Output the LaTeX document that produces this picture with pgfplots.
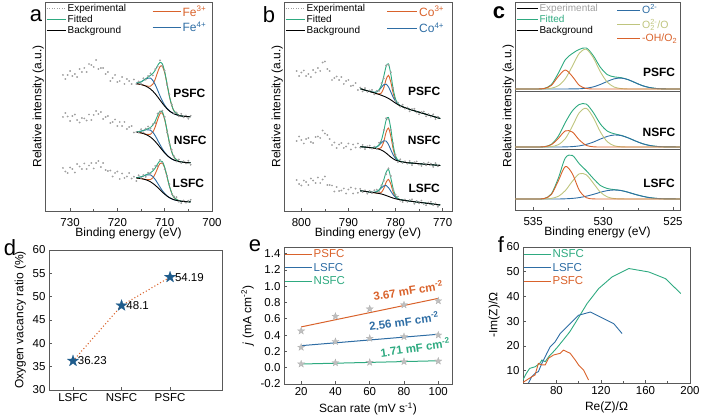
\documentclass[border=0pt]{standalone}
\usepackage{fontspec}
\setmainfont{Liberation Sans}
\usepackage{pgfplots}
\usepackage{pgfplotstable}
\pgfplotsset{compat=1.18}
\definecolor{cor}{HTML}{D9622B}
\definecolor{cbl}{HTML}{2E6DA4}
\definecolor{cgr}{HTML}{2EAA80}
\definecolor{col}{HTML}{BFC57E}
\definecolor{cst}{HTML}{1F5C8C}
\definecolor{cfr}{HTML}{595959}
\definecolor{cex}{HTML}{A0A0A0}
\pgfdeclareplotmark{fstar}{%
\pgfpathmoveto{\pgfpointpolar{90}{\pgfplotmarksize}}%
\pgfpathlineto{\pgfpointpolar{126}{0.40\pgfplotmarksize}}%
\pgfpathlineto{\pgfpointpolar{162}{\pgfplotmarksize}}%
\pgfpathlineto{\pgfpointpolar{198}{0.40\pgfplotmarksize}}%
\pgfpathlineto{\pgfpointpolar{234}{\pgfplotmarksize}}%
\pgfpathlineto{\pgfpointpolar{270}{0.40\pgfplotmarksize}}%
\pgfpathlineto{\pgfpointpolar{306}{\pgfplotmarksize}}%
\pgfpathlineto{\pgfpointpolar{342}{0.40\pgfplotmarksize}}%
\pgfpathlineto{\pgfpointpolar{18}{\pgfplotmarksize}}%
\pgfpathlineto{\pgfpointpolar{54}{0.40\pgfplotmarksize}}%
\pgfpathclose\pgfusepathqfillstroke}

% ---------- panel a: Fe 2p ----------
\pgfplotstableread{
x P N L
731.5 136 94 43
731 132 98 39.5
730.5 136 94.5 38
730 140 90 43.5
729.5 135 95 42
729 137 96.5 38.5
728.5 134 91 47
728 142 88.5 44.5
727.5 139 93 42
727 143 92.5 47.5
726.5 139 90.5 42
726 147 96.5 45.5
725.5 146 91 48
725 144 96 42.5
724.5 151 100 48
724 142 97 50
723.5 143 99 44
723 143 92 48
722.5 137 94 41
722 139 95 40
721.5 130 88 40.5
721 133 89 34.5
720.5 136 91.5 38
720 129 85 39.5
719.5 130 89 32
719 134 85 37.5
718.5 127 89 33
718 132 82 34.5
717.5 130 84 38
717 127 85 32.5
716.5 131.5 78.5 34.3
716 127 79 30
715.5 129.5 78.5 35.7
715 127.1 81.8 33.1
714.5 132.7 78.6 36.1
714 131.3 82.4 34.1
713.5 135 84.5 38.2
713 137.7 82.6 37.3
712.5 135.6 86.8 42
712 141.9 87.9 45
711.5 144.4 97.4 45
711 150.6 98.9 51.2
710.5 145.1 100.3 48.4
710 140.3 94.1 41.7
709.5 126.1 78.4 35.4
709 116.8 67.3 26.9
708.5 106.5 61.1 16.7
708 97.9 54.7 14.4
707.5 98.5 49.5 13.8
707 94.7 51.6 9.3
706.5 97.2 48.1 7.9
706 93.7 49.7 10.5
705.5 95.5 47.5 8.3
705 92.3 50.3 10.2
704.5 95.2 46.2 11.2
}\scatA
\pgfplotstableread{
x PO PB PG PK NO NB NG NK LO LB LG LK
716 127.3 127.8 127.8 127.3 78.8 79.1 79.1 78.8 33.0 33.3 33.3 33.0
715 126.5 129.1 129.1 126.5 78.1 79.8 79.8 78.1 32.4 34.1 34.1 32.4
714 125.1 132.1 132.3 124.9 76.8 81.2 81.4 76.6 31.5 35.9 36.1 31.3
713 124.8 132.9 135.7 122.0 76.7 80.8 83.6 73.9 31.4 36.1 38.3 29.2
712.5 126.9 130.5 137.6 119.8 79.0 78.7 85.8 71.9 33.2 34.4 40.0 27.6
712 131.8 126.3 140.9 117.2 84.1 75.3 89.9 69.5 37.2 31.5 43.0 25.7
711.5 138.7 120.9 145.4 114.2 91.2 70.9 95.4 66.7 42.8 27.8 47.0 23.6
711 144.4 115.2 148.6 111.0 97.2 66.5 99.9 63.8 47.5 24.0 50.2 21.3
710.5 144.8 110.1 147.1 107.8 97.8 62.3 99.3 60.8 47.9 20.4 49.4 18.9
710 138.2 105.9 139.3 104.8 91.4 58.7 92.1 58.0 43.0 17.5 43.7 16.8
709.5 126.7 102.6 127.1 102.2 80.1 55.9 80.4 55.6 34.1 15.2 34.4 14.9
709 114.6 100.2 114.8 100.0 68.2 53.7 68.3 53.6 24.8 13.4 24.9 13.3
708.5 105.5 98.4 105.5 98.4 59.1 52.0 59.1 52.0 17.7 12.1 17.7 12.1
708 99.9 97.1 99.9 97.1 53.7 50.9 53.7 50.9 13.4 11.2 13.4 11.2
707 95.7 95.5 95.7 95.5 49.6 49.4 49.6 49.4 10.3 10.1 10.3 10.1
706 94.7 94.7 94.7 94.7 48.7 48.7 48.7 48.7 9.5 9.5 9.5 9.5
705 94.3 94.3 94.3 94.3 48.3 48.3 48.3 48.3 9.2 9.2 9.2 9.2
704.5 94.2 94.2 94.2 94.2 48.2 48.2 48.2 48.2 9.2 9.2 9.2 9.2
}\fitA

% ---------- panel b: Co 2p ----------
\pgfplotstableread{
x P N L
801 140 70 31
800.5 135 74.5 27
800 138.5 71 25.5
799.5 140.5 67.5 30.5
799 135 72 29
798.5 137 73 26
798 134 69 32.5
797.5 141 68 30.5
797 138.5 74 28
796.5 143 74.5 33.5
796 140 73 28
795.5 148.5 80.5 31.5
795 149.5 77.5 34.5
794.5 142 76 26
794 140 72 26
793.5 131 66 25.5
793 133 68.5 19.5
792.5 134.5 63 24
792 131 66.5 20
791.5 134 68 20.5
791 127 63 22.5
790.5 130 64.5 17.5
790 131 67.5 21.5
789.5 125 61.5 23.5
789 125.5 66.5 17.5
788.5 128 63.5 22.3
788 121 67.5 18.2
787.5 123.3 63.3 22.2
787 119.6 66.1 18.9
786.5 122.9 61.9 20.6
786 119.2 64.7 17.3
785.5 120.5 65.4 20
785 121.1 62.4 17.9
784.5 116.7 64.3 20.7
784 120.1 62.1 21.3
783.5 120.2 68.2 19.1
783 127.9 69.9 25.8
782.5 132.6 80.9 30.2
782 145.6 92.8 36.7
781.5 146.1 91.5 42.6
781 138.8 81.1 35
780.5 123 67.8 21.3
780 110 56.2 16.3
779.5 108.4 49 14.4
779 104.3 51.6 10.4
778.5 106.3 48.1 9
778 102.3 49.6 11.5
777.5 103.5 47.4 9.2
777 99.7 50.1 10.9
776.5 102 45.9 11.6
776 102.2 48.7 7.3
775.5 98.5 49.5 10
775 96.8 46.3 7.7
774.5 99.1 45.1 10.4
774 99.4 47.9 7.1
773.5 94.7 45.7 5.8
773 97 48.5 8.5
772.5 94.3 47.3 9.2
772 96.6 44.1 5.9
771.5 91.9 47.9 7.6
771 94.2 44.7 4.3
}\scatB
\pgfplotstableread{
x PO PB PG PK NO NB NG NK LO LB LG LK
787.5 122.3 122.3 122.3 122.3 64.3 64.3 64.3 64.3 20.2 20.2 20.2 20.2
786.5 120.9 120.9 120.9 120.9 63.9 63.9 63.9 63.9 19.6 19.6 19.6 19.6
785.5 119.5 119.5 119.5 119.5 63.4 63.4 63.4 63.4 19.0 19.0 19.0 19.0
784.5 118.1 118.7 118.7 118.1 62.8 63.3 63.3 62.8 18.3 18.7 18.7 18.3
784 117.3 119.1 119.1 117.3 62.5 64.0 64.1 62.4 17.9 19.3 19.3 17.9
783.5 117.0 120.8 121.2 116.6 62.3 65.7 66.2 61.8 17.8 20.8 21.1 17.5
783 118.0 123.6 125.9 115.7 63.6 68.2 70.9 60.9 18.7 23.1 24.8 17.0
782.5 123.1 126.3 134.6 114.8 69.3 70.2 79.9 59.6 22.4 25.1 31.2 16.3
782 131.6 126.8 144.6 113.8 78.8 69.9 90.8 57.9 28.7 25.5 38.7 15.5
781.5 135.6 124.1 147.1 112.6 82.9 66.5 93.5 55.9 31.6 23.4 41.6 14.6
781 128.9 119.0 136.8 111.1 74.8 61.2 82.1 53.9 26.9 19.8 33.0 13.7
780.5 117.8 113.7 122.0 109.5 61.9 56.1 65.8 52.2 19.0 16.2 22.3 12.9
780 110.2 109.7 112.0 107.9 53.6 52.5 55.2 50.9 13.9 13.6 15.3 12.2
779.5 106.8 107.0 107.4 106.4 50.5 50.5 51.0 50.0 12.0 12.1 12.4 11.7
779 105.2 105.3 105.3 105.2 49.5 49.5 49.6 49.4 11.3 11.4 11.4 11.3
778 103.3 103.3 103.3 103.3 48.6 48.6 48.6 48.6 10.5 10.5 10.5 10.5
777 101.7 101.7 101.7 101.7 48.1 48.1 48.1 48.1 9.9 9.9 9.9 9.9
776 100.2 100.2 100.2 100.2 47.7 47.7 47.7 47.7 9.3 9.3 9.3 9.3
774 97.4 97.4 97.4 97.4 46.9 46.9 46.9 46.9 8.1 8.1 8.1 8.1
772 94.6 94.6 94.6 94.6 46.1 46.1 46.1 46.1 6.9 6.9 6.9 6.9
770.5 92.5 92.5 92.5 92.5 45.5 45.5 45.5 45.5 6.0 6.0 6.0 6.0
}\fitB

% ---------- panel c: O 1s ----------
\pgfplotstableread{
x PH PZ PB PG NH NZ NB NG LH LZ LB LG
536.3 121 121 121 121 63 63 63 63 11 11 11 11
535.7 121 121 121 121 63 63 63 63 11 11 11 11
535.2 121 121 121 121 63 63 63 63 11 11 11 11
534.7 121 121 121 121 63 63 63 63 11 11 11 11
534.2 121.5 121.1 121 121.6 63.3 63 63 63.3 11.5 11 11 11.5
533.7 124.6 121.8 121 125.4 65.3 63.4 63 65.7 15.5 11.6 11 16.1
533.2 133.6 124.3 121 136.9 71.6 65.3 63 73.9 29.2 13.7 11 31.9
532.7 140 131.3 121 150.3 79.1 71.4 63.1 87.6 43.5 19.4 11.2 52.1
532.2 133.6 143.8 121.1 156.5 78.0 83.7 63.4 99.1 36.3 28.7 11.6 54.6
531.7 124.6 156.8 121.2 160.6 70.0 97.4 64.1 105.5 19.6 36.2 12.4 46.2
531.2 121.5 160.7 121.8 162.0 64.6 101.7 65.6 105.9 12.3 35.2 13.8 39.3
530.7 121 152.2 123.1 154.3 63.2 92.4 67.9 97.5 11.1 26.8 15.6 31.5
530.2 121 138.3 125.5 142.8 63 78.2 70.9 86.1 11 17.9 17.7 24.6
529.7 121 127.8 128.6 135.4 63 68.3 73.6 78.9 11 13.1 19.4 21.5
529.2 121 122.9 131.2 133.1 63 64.2 75.0 76.2 11 11.4 20 20.4
528.7 121 121.4 131.9 132.3 63 63.2 74.4 74.6 11 11.1 19.4 19.5
528.2 121 121 130.3 130.3 63 63 72.1 72.1 11 11 17.7 17.7
527.7 121 121 127.3 127.3 63 63 69.1 69.1 11 11 15.6 15.6
527.2 121 121 124.4 124.4 63 63 66.4 66.4 11 11 13.8 13.8
526.7 121 121 122.5 122.5 63 63 64.6 64.6 11 11 12.4 12.4
526.2 121 121 121.5 121.5 63 63 63.6 63.6 11 11 11.6 11.6
525.7 121 121 121.1 121.1 63 63 63.2 63.2 11 11 11.2 11.2
525.2 121 121 121 121 63 63 63.1 63.1 11 11 11.1 11.1
524.5 121 121 121 121 63 63 63 63 11 11 11 11
}\fitC

\tikzset{lab/.style={font=\bfseries\fontsize{12}{13}\selectfont}}
\pgfplotsset{
  base/.style={scale only axis, axis line style={cfr, line width=0.8pt},
    every tick/.style={cfr, line width=0.6pt}, tick align=inside,
    major tick length=3pt, minor tick length=2pt,
    tick label style={font=\fontsize{11.5}{13}\selectfont},
    label style={font=\fontsize{12}{14}\selectfont},
    /pgf/number format/assume math mode=true, legend cell align=left},
  xps/.style={base, x dir=reverse, ytick=\empty, xtick pos=left, ymin=0,
    ylabel={Relative intensity (a.u.)}, xlabel={Binding energy (eV)},
    ylabel style={at={(axis description cs:0,0.5)}, anchor=south, inner sep=1pt},
    xticklabel style={yshift=-4pt},
    xlabel style={inner sep=0pt, yshift=2pt},
    legend style={at={(axis description cs:0.005,0.997)}, anchor=north west,
      draw=none, fill=none, font=\fontsize{10}{11}\selectfont, inner sep=0pt,
      row sep=-1pt, nodes={inner sep=1.5pt}},
    legend image code/.code={\draw[##1] (0pt,0pt) -- (19pt,0pt);}},
  scat/.style={only marks, mark=*, mark size=0.7pt, color=cex},
  fit/.style={smooth, line width=0.9pt, no marks},
  leg2/.style={scale only axis, hide axis, xmin=0, xmax=1, ymin=0, ymax=1,
    legend cell align=left,
    legend style={draw=none, fill=none, anchor=north west,
      font=\fontsize{12}{13}\selectfont, inner sep=0pt, nodes={inner sep=1.5pt}}},
  leg3/.style={legend style={at={(axis description cs:0.003,0.99)}, anchor=north west, draw=none, fill=none,
    font=\fontsize{11.5}{12}\selectfont, inner sep=0pt, row sep=2pt, nodes={inner sep=1pt}},
    legend image code/.code={\draw[##1] (0pt,0pt) -- (27pt,0pt);}}
}

\begin{document}
\begin{tikzpicture}
\path[draw=none] (0pt,0pt) rectangle (703pt,412pt);

% ================= a =================
\begin{axis}[xps, at={(45pt,410pt)}, anchor=north west, width=167pt, height=209pt,
  xmin=700, xmax=735.3, ymax=209, xtick={700,710,720,730}, minor x tick num=1]
\addlegendimage{cex, line width=1.2pt, dash pattern=on 1pt off 1.5pt}\addlegendentry{Experimental}
\addlegendimage{cgr, line width=1pt}\addlegendentry{Fitted}
\addlegendimage{black, line width=1pt}\addlegendentry{Background}
\addplot[scat, forget plot] table[x=x,y=P]{\scatA};
\addplot[scat, forget plot] table[x=x,y=N]{\scatA};
\addplot[scat, forget plot] table[x=x,y=L]{\scatA};
\addplot[fit, cor, forget plot] table[x=x,y=PO]{\fitA};
\addplot[fit, cbl, forget plot] table[x=x,y=PB]{\fitA};
\addplot[fit, cgr, forget plot] table[x=x,y=PG]{\fitA};
\addplot[fit, black, forget plot] table[x=x,y=PK]{\fitA};
\addplot[fit, cor, forget plot] table[x=x,y=NO]{\fitA};
\addplot[fit, cbl, forget plot] table[x=x,y=NB]{\fitA};
\addplot[fit, cgr, forget plot] table[x=x,y=NG]{\fitA};
\addplot[fit, black, forget plot] table[x=x,y=NK]{\fitA};
\addplot[fit, cor, forget plot] table[x=x,y=LO]{\fitA};
\addplot[fit, cbl, forget plot] table[x=x,y=LB]{\fitA};
\addplot[fit, cgr, forget plot] table[x=x,y=LG]{\fitA};
\addplot[fit, black, forget plot] table[x=x,y=LK]{\fitA};
\node[lab] at (axis cs:704.8,118) {PSFC};
\node[lab] at (axis cs:704.6,71) {NSFC};
\node[lab] at (axis cs:705.0,28) {LSFC};
\end{axis}
\begin{axis}[leg2, at={(45pt,410pt)}, anchor=north west, width=167pt, height=209pt,
  legend style={at={(axis description cs:0.64,0.988)}, row sep=1pt},
  legend image code/.code={\draw[#1] (0pt,0pt) -- (28pt,0pt);}]
\addlegendimage{cor, line width=1pt}\addlegendentry{\textcolor{cor}{Fe\textsuperscript{3+}}}
\addlegendimage{cbl, line width=1pt}\addlegendentry{\textcolor{cbl}{Fe\textsuperscript{4+}}}
\end{axis}

% ================= b =================
\begin{axis}[xps, at={(284pt,410pt)}, anchor=north west, width=168pt, height=209pt,
  xmin=768, xmax=803.7, ymax=209, xtick={770,780,790,800}, minor x tick num=1]
\addlegendimage{cex, line width=1.2pt, dash pattern=on 1pt off 1.5pt}\addlegendentry{Experimental}
\addlegendimage{cgr, line width=1pt}\addlegendentry{Fitted}
\addlegendimage{black, line width=1pt}\addlegendentry{Background}
\addplot[scat, forget plot] table[x=x,y=P]{\scatB};
\addplot[scat, forget plot] table[x=x,y=N]{\scatB};
\addplot[scat, forget plot] table[x=x,y=L]{\scatB};
\addplot[fit, cor, forget plot] table[x=x,y=PO]{\fitB};
\addplot[fit, cbl, forget plot] table[x=x,y=PB]{\fitB};
\addplot[fit, cgr, forget plot] table[x=x,y=PG]{\fitB};
\addplot[fit, black, forget plot] table[x=x,y=PK]{\fitB};
\addplot[fit, cor, forget plot] table[x=x,y=NO]{\fitB};
\addplot[fit, cbl, forget plot] table[x=x,y=NB]{\fitB};
\addplot[fit, cgr, forget plot] table[x=x,y=NG]{\fitB};
\addplot[fit, black, forget plot] table[x=x,y=NK]{\fitB};
\addplot[fit, cor, forget plot] table[x=x,y=LO]{\fitB};
\addplot[fit, cbl, forget plot] table[x=x,y=LB]{\fitB};
\addplot[fit, cgr, forget plot] table[x=x,y=LG]{\fitB};
\addplot[fit, black, forget plot] table[x=x,y=LK]{\fitB};
\node[lab] at (axis cs:773.9,120) {PSFC};
\node[lab] at (axis cs:773.9,71) {NSFC};
\node[lab] at (axis cs:773.9,23) {LSFC};
\end{axis}
\begin{axis}[leg2, at={(284pt,410pt)}, anchor=north west, width=168pt, height=209pt,
  legend style={at={(axis description cs:0.61,0.988)}, row sep=2pt},
  legend image code/.code={\draw[#1] (0pt,0pt) -- (30pt,0pt);}]
\addlegendimage{cor, line width=1pt}\addlegendentry{\textcolor{cor}{Co\textsuperscript{3+}}}
\addlegendimage{cbl, line width=1pt}\addlegendentry{\textcolor{cbl}{Co\textsuperscript{4+}}}
\end{axis}

% ================= c =================
\begin{axis}[xps, at={(515pt,410pt)}, anchor=north west, width=165pt, height=208pt,
  xmin=524.5, xmax=536.3, ymax=208, xtick={525,530,535}, minor x tick num=1,
  legend image code/.code={\draw[#1] (0pt,0pt) -- (21pt,0pt);}]
\addlegendimage{draw=none}\addlegendentry{\textcolor{cex}{Experimental}}
\addlegendimage{cgr, line width=1pt}\addlegendentry{\textcolor{cgr}{Fitted}}
\addlegendimage{black, line width=1pt}\addlegendentry{Background}
\addplot[cfr, line width=0.8pt, forget plot] coordinates {(524.5,118.5) (536.3,118.5)};
\addplot[cfr, line width=0.8pt, forget plot] coordinates {(524.5,60.5) (536.3,60.5)};
\addplot[fit, cgr, forget plot] table[x=x,y=PG]{\fitC};
\addplot[fit, cbl, forget plot] table[x=x,y=PB]{\fitC};
\addplot[fit, col, forget plot] table[x=x,y=PZ]{\fitC};
\addplot[fit, cor, forget plot] table[x=x,y=PH]{\fitC};
\addplot[fit, cgr, forget plot] table[x=x,y=NG]{\fitC};
\addplot[fit, cbl, forget plot] table[x=x,y=NB]{\fitC};
\addplot[fit, col, forget plot] table[x=x,y=NZ]{\fitC};
\addplot[fit, cor, forget plot] table[x=x,y=NH]{\fitC};
\addplot[fit, cgr, forget plot] table[x=x,y=LG]{\fitC};
\addplot[fit, cbl, forget plot] table[x=x,y=LB]{\fitC};
\addplot[fit, col, forget plot] table[x=x,y=LZ]{\fitC};
\addplot[fit, cor, forget plot] table[x=x,y=LH]{\fitC};
\node[lab] at (axis cs:526.0,138) {PSFC};
\node[lab] at (axis cs:526.0,78) {NSFC};
\node[lab] at (axis cs:526.0,27) {LSFC};
\end{axis}
\begin{axis}[leg2, at={(515pt,410pt)}, anchor=north west, width=165pt, height=208pt,
  legend style={at={(axis description cs:0.615,0.995)}, row sep=1pt, font=\fontsize{10.5}{11}\selectfont},
  legend image code/.code={\draw[#1] (0pt,0pt) -- (23pt,0pt);}]
\addlegendimage{cbl, line width=1pt}\addlegendentry{\textcolor{cbl}{O\textsuperscript{2-}}}
\addlegendimage{col, line width=1pt}\addlegendentry{\textcolor{col}{O\rlap{\textsubscript{2}}\textsuperscript{2-}/O}}
\addlegendimage{cor, line width=1pt}\addlegendentry{\textcolor{cor}{-OH/O\textsubscript{2}}}
\end{axis}

% ================= d =================
\begin{axis}[base, at={(49pt,162pt)}, anchor=north west, width=173pt, height=140pt,
  xmin=-0.495, xmax=3.07, ymin=30, ymax=60, xtick={0,1,2}, xticklabels={LSFC,NSFC,PSFC},
  ytick={30,35,40,45,50,55,60}, tick pos=left, ylabel={Oxygen vacancy ratio (\%)}]
\addplot[cor, line width=1.5pt, line cap=round, dash pattern=on 0pt off 3.3pt, forget plot]
  coordinates {(0,36.23) (1,48.1) (2,54.19)};
\addplot[only marks, mark=fstar, mark size=6pt, mark options={fill=cst, draw=cst, line width=0.2pt},
  nodes near coords, point meta=explicit symbolic,
  every node near coord/.style={anchor=west, xshift=1.5pt, font=\fontsize{11.5}{13}\selectfont, black}]
  coordinates {(0,36.23) [36.23] (1,48.1) [48.1] (2,54.19) [54.19]};
\end{axis}

% ================= e =================
\begin{axis}[base, leg3, at={(284pt,165pt)}, anchor=north west, width=168pt, height=137pt,
  xmin=10, xmax=108, ymin=-0.2, ymax=1.48, xtick={20,40,60,80,100},
  ytick={-0.2,0,0.2,0.4,0.6,0.8,1.0,1.2,1.4}, tick pos=left,
  yticklabel style={/pgf/number format/.cd, fixed, fixed zerofill, precision=1},
  xlabel={Scan rate (mV s\textsuperscript{-1})}, ylabel={\textit{j} (mA cm\textsuperscript{-2})}]
\addplot[cor, line width=1pt] coordinates {(20,0.50) (100,0.85)};
\addlegendentry{\textcolor{cor}{PSFC}}
\addplot[cbl, line width=1pt] coordinates {(20,0.27) (100,0.41)};
\addlegendentry{\textcolor{cbl}{LSFC}}
\addplot[cgr, line width=1pt] coordinates {(20,0.045) (100,0.085)};
\addlegendentry{\textcolor{cgr}{NSFC}}
\addplot[only marks, mark=fstar, mark size=3.8pt, mark options={fill=black!25, draw=black!32, line width=0.2pt}, forget plot]
  coordinates {(20,0.45) (40,0.63) (60,0.72) (80,0.77) (100,0.82)};
\addplot[only marks, mark=fstar, mark size=3.8pt, mark options={fill=black!25, draw=black!32, line width=0.2pt}, forget plot]
  coordinates {(20,0.25) (40,0.32) (60,0.36) (80,0.38) (100,0.40)};
\addplot[only marks, mark=fstar, mark size=3.8pt, mark options={fill=black!25, draw=black!32, line width=0.2pt}, forget plot]
  coordinates {(20,0.045) (40,0.06) (60,0.065) (80,0.075) (100,0.08)};
\node[rotate=9, text=cor, font=\bfseries\fontsize{11.5}{12}\selectfont] at (axis cs:82.4,0.95) {3.67 mF cm\textsuperscript{-2}};
\node[rotate=8, text=cbl, font=\bfseries\fontsize{11.5}{12}\selectfont] at (axis cs:80,0.57) {2.56 mF cm\textsuperscript{-2}};
\node[rotate=8, text=cgr, font=\bfseries\fontsize{11.5}{12}\selectfont] at (axis cs:86.5,0.25) {1.71 mF cm\textsuperscript{-2}};
\end{axis}

% ================= f =================
\begin{axis}[base, leg3, at={(523pt,165pt)}, anchor=north west, width=167pt, height=136pt,
  xmin=50, xmax=200, ymin=5, ymax=60, xtick={80,120,160,200}, minor x tick num=1,
  ytick={10,20,30,40,50,60}, tick pos=left,
  xlabel={Re(Z)/Ω}, ylabel={-Im(Z)/Ω}]
\addplot[cgr, line width=0.9pt] coordinates {(49,5.5) (53,8.9) (56,10.9) (61,11.6) (65,12.9) (67,14.3) (70,13.6) (73,15.6) (76,17) (80,19) (86,22.3) (92,25.7) (98.5,30.4) (107.5,37.1) (118,43.2) (130,47.9) (145,51.3) (163,49.9) (178,47.2) (191.7,41.2)};
\addlegendentry{\textcolor{cgr}{NSFC}}
\addplot[cbl, line width=0.9pt] coordinates {(54.8,4.9) (57.8,7.5) (60.8,8.9) (63.8,9.6) (66.9,12.9) (71.4,17) (74.4,19.6) (78.9,21.7) (83.4,25) (92.4,29) (99.9,32.4) (110.5,33.7) (131.5,29) (139,25)};
\addlegendentry{\textcolor{cbl}{LSFC}}
\addplot[cor, line width=0.9pt] coordinates {(48.8,4.9) (53.3,6.2) (57.8,7.5) (60.8,8.2) (63.8,12.9) (66.9,12.3) (69.9,12.3) (72.9,15) (77.3,16.3) (83.4,17) (86.4,18.3) (92.4,17) (96.9,14.3) (99.9,12.3) (104.4,10.2) (108.9,6.2)};
\addlegendentry{\textcolor{cor}{PSFC}}
\end{axis}

% panel letters
\node[font=\fontsize{22}{22}\selectfont] at (36pt,396pt) {a};
\node[font=\fontsize{22}{22}\selectfont] at (269pt,397pt) {b};
\node[font=\bfseries\fontsize{22}{22}\selectfont] at (499pt,399pt) {c};
\node[font=\fontsize{22}{22}\selectfont] at (10pt,164pt) {d};
\node[font=\fontsize{22}{22}\selectfont] at (255pt,166pt) {e};
\node[font=\fontsize{22}{22}\selectfont] at (501pt,167pt) {f};
\end{tikzpicture}
\end{document}
